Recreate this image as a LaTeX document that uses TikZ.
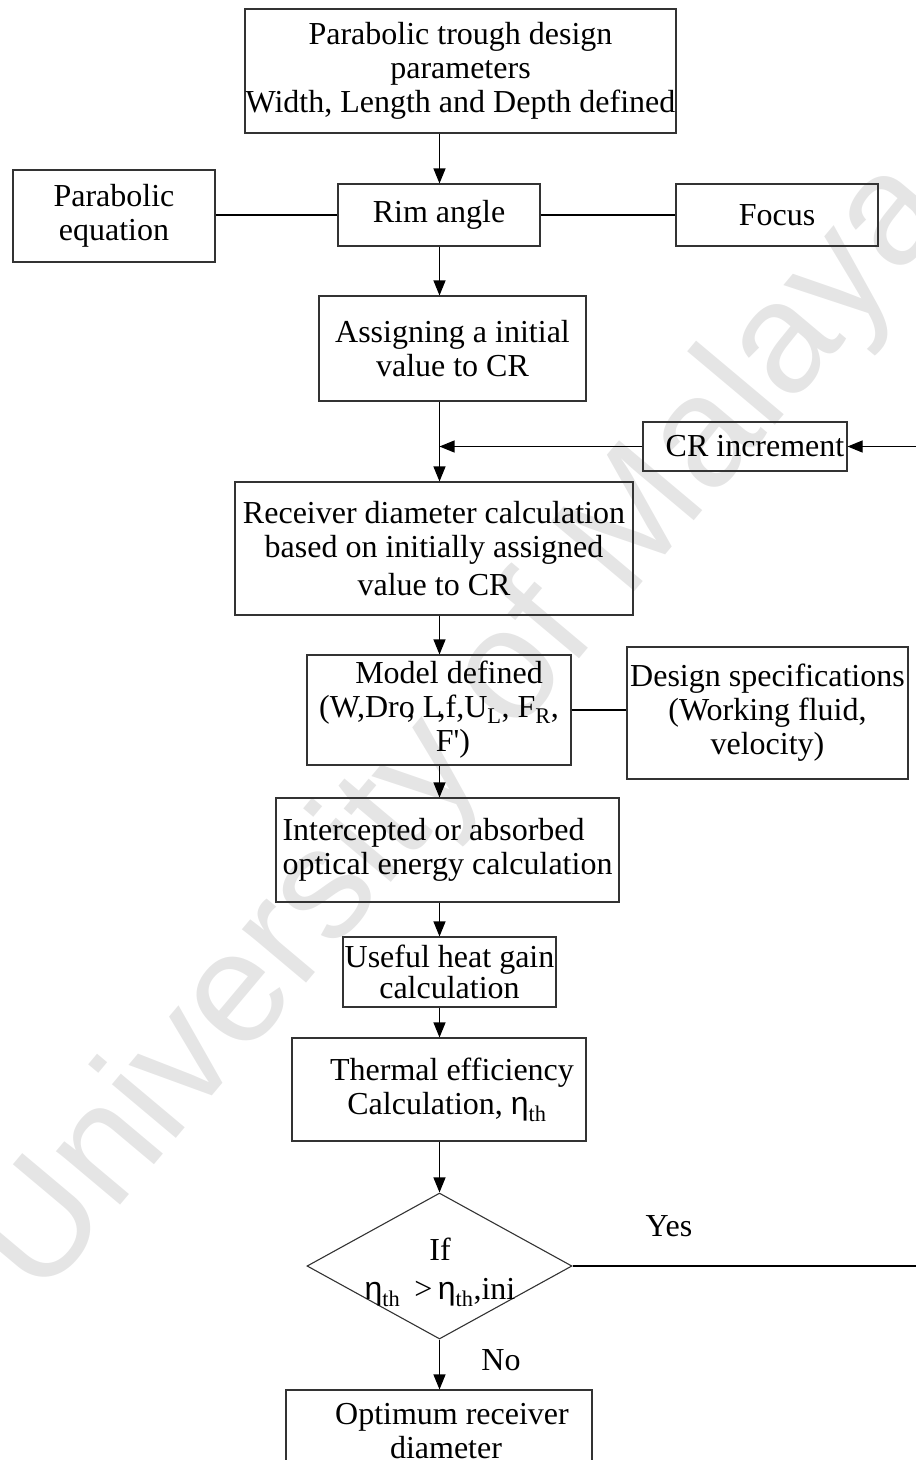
\documentclass[tikz,border=0pt]{standalone}
\usepackage{fontspec}
\setmainfont{Liberation Serif}
\newfontfamily\grk{Liberation Sans}
\newfontfamily\wmfont{Liberation Sans}
\usetikzlibrary{arrows.meta,shapes.geometric}
\newcommand\fs{\fontsize{32}{34}\selectfont}
\newcommand\myeta{{\grk η}}
\begin{document}
\begin{tikzpicture}[x=1pt,y=-1pt,
  box/.style={draw=black!80, line width=1.1pt, inner sep=0pt, align=center, font=\fs},
  lbl/.style={inner sep=0pt, align=center, font=\fs},
  arr/.style={-{Triangle[length=15pt,width=12pt]}, line width=1.1pt},
  ln/.style={line width=1.1pt}]
\useasboundingbox (0,0) rectangle (916,1460);
\clip (0,0) rectangle (916,1460);
% watermark
\node[rotate=50, text=black!10, inner sep=0pt, font={\wmfont\fontsize{158}{158}\selectfont}] (wm) at (466,730) {University of Malaya};
\coordinate (ax) at (439.5,0);
% boxes
\node[box, minimum width=431pt, minimum height=124pt] (top) at (460.5,71) {Parabolic trough design\\parameters\\Width, Length and Depth defined};
\node[box, minimum width=202pt, minimum height=92pt] (pe) at (114,216) {Parabolic\\equation};
\node[box, minimum width=202pt, minimum height=62pt] (rim) at (439,215) {Rim angle};
\node[box, minimum width=202pt, minimum height=62pt] (focus) at (777,215) {Focus};
\node[box, minimum width=267pt, minimum height=105pt] (assign) at (452.5,348.5) {Assigning a initial\\value to CR};
\node[box, minimum width=204pt, minimum height=49pt] (cr) at (745,446.5) {\hspace*{20pt}CR increment};
\node[box, minimum width=398pt, minimum height=133pt] (recv) at (434,548.5) {Receiver diameter calculation\\based on initially assigned\\[4pt]value to CR};
\node[box, minimum width=264pt, minimum height=110pt] (model) at (439,710) {\hspace*{20pt}Model defined\\(W,Dro\kern-0.25em, L\kern-0.15em,f,U\textsubscript{L}, F\textsubscript{R},\hspace*{14pt}\\\hspace*{28pt}F\textquotesingle)};
\node[box, minimum width=281pt, minimum height=132pt] (design) at (767.5,713) {Design specifications\\(Working fluid,\\velocity)};
\node[box, minimum width=343pt, minimum height=104pt, align=left] (inter) at (447.5,850) {Intercepted or absorbed\\optical energy calculation};
\node[box, minimum width=213pt, minimum height=70pt, font={\fontsize{32}{31}\selectfont}] (useful) at (449.5,972) {Useful heat gain\\calculation};
\node[box, minimum width=294pt, minimum height=103pt] (therm) at (439,1089.5) {\hspace*{26pt}Thermal efficiency\\\hspace*{16pt}Calculation, \myeta\textsubscript{th}};
\node[draw=black!80, line width=1.1pt, shape=diamond, inner sep=0pt, minimum width=265pt, minimum height=146pt] (dia) at (439.5,1266) {};
\node[lbl] (diatext) at (440,1272) {If\\[5pt]\myeta\textsubscript{th}\hspace{14pt}>\,\myeta\textsubscript{th},ini};
\node[box, minimum width=306pt, minimum height=82pt] (opt) at (439,1431) {\hspace*{26pt}Optimum receiver\\\hspace*{14pt}diameter};
\node[lbl] (yes) at (669,1226) {Yes};
\node[lbl] (no) at (501,1360) {No};
% connectors
\draw[arr] (top.south -| ax) -- (rim.north -| ax);
\draw[ln] (rim.west -| pe.east) -- (rim.west);
\draw[ln] (rim.east) -- (focus.west);
\draw[arr] (rim.south -| ax) -- (assign.north -| ax);
\draw[arr] (assign.south -| ax) -- (recv.north -| ax);
\coordinate (redge) at (916,446.5);
\draw[arr] (redge) -- (cr.east);
\draw[arr] (cr.west) -- (cr.west -| ax);
\draw[arr] (recv.south -| ax) -- (model.north -| ax);
\draw[ln] (model.east) -- (model.east -| design.west);
\draw[arr] (model.south -| ax) -- (inter.north -| ax);
\draw[arr] (inter.south -| ax) -- (useful.north -| ax);
\draw[arr] (useful.south -| ax) -- (therm.north -| ax);
\draw[arr] (therm.south -| ax) -- (dia.north);
\draw[arr] (dia.south) -- (opt.north -| ax);
\coordinate (yedge) at (916,1266);
\draw[ln] (dia.east) -- (yedge);
\end{tikzpicture}
\end{document}
